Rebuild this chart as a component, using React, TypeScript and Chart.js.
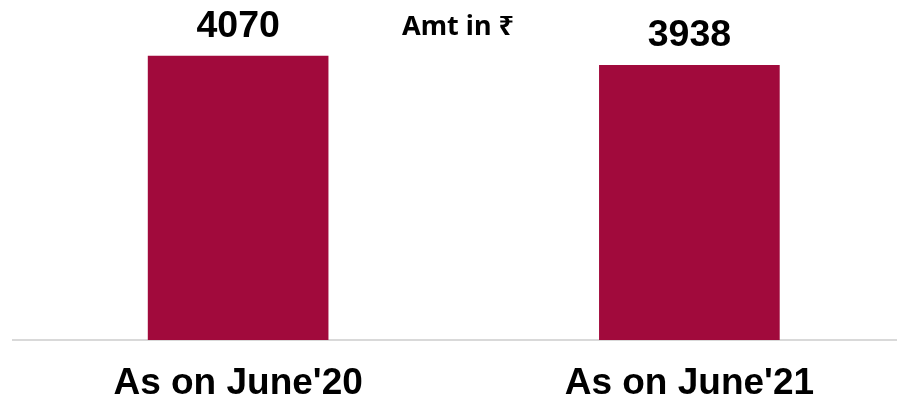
import React, { useEffect, useRef } from 'react';
import { Chart, registerables } from 'chart.js';

Chart.register(...registerables);

const categories = ["As on June'20", "As on June'21"];
const amounts = [4070, 3938];
const unitNote = 'Amt in ₹';

export default function App() {
  const ref = useRef<HTMLCanvasElement>(null);

  useEffect(() => {
    document.body.style.margin = '0';
    const canvas = ref.current;
    if (!canvas) return;

    const valueLabels = {
      id: 'valueLabels',
      afterDatasetsDraw(chart: any) {
        const ctx = chart.ctx;
        const meta = chart.getDatasetMeta(0);
        ctx.save();
        ctx.fillStyle = '#000000';
        ctx.textAlign = 'center';
        ctx.textBaseline = 'alphabetic';
        ctx.font = 'bold 37.5px "Liberation Sans", Arial, sans-serif';
        meta.data.forEach((bar: any, i: number) => {
          ctx.fillText(String(amounts[i]), bar.x, bar.y - 19);
        });
        ctx.font = 'bold 27px "Noto Sans", "DejaVu Sans", sans-serif';
        ctx.fillText(unitNote, 458, 35);
        ctx.restore();
      },
    };

    const chart = new Chart(canvas, {
      type: 'bar',
      data: {
        labels: categories,
        datasets: [
          {
            data: amounts,
            backgroundColor: '#A10A3C',
            borderWidth: 0,
            barThickness: 180,
          },
        ],
      },
      options: {
        animation: false,
        responsive: true,
        maintainAspectRatio: false,
        layout: { padding: { left: 12.5, right: 0, top: 26, bottom: 0 } },
        plugins: {
          legend: { display: false },
          tooltip: { enabled: false },
          title: { display: false },
        },
        scales: {
          x: {
            grid: { display: false, drawTicks: false },
            border: { display: true, color: '#d9d9d9', width: 2 },
            ticks: {
              color: '#000000',
              padding: 25,
              font: { family: '"Liberation Sans", Arial, sans-serif', size: 37, weight: 'bold', lineHeight: 1 },
              maxRotation: 0,
              autoSkip: false,
            },
            afterFit: (scale: any) => {
              scale.height = 62;
            },
          },
          y: {
            display: false,
            min: 0,
            max: 4500,
          },
        },
      },
      plugins: [valueLabels],
    });

    return () => chart.destroy();
  }, []);

  return (
    <div style={{ width: 897, height: 402, overflow: 'hidden', position: 'relative', background: '#fff' }}>
      <div style={{ width: 915, height: 402, position: 'absolute', left: 0, top: 0 }}>
        <canvas ref={ref} />
      </div>
    </div>
  );
}
